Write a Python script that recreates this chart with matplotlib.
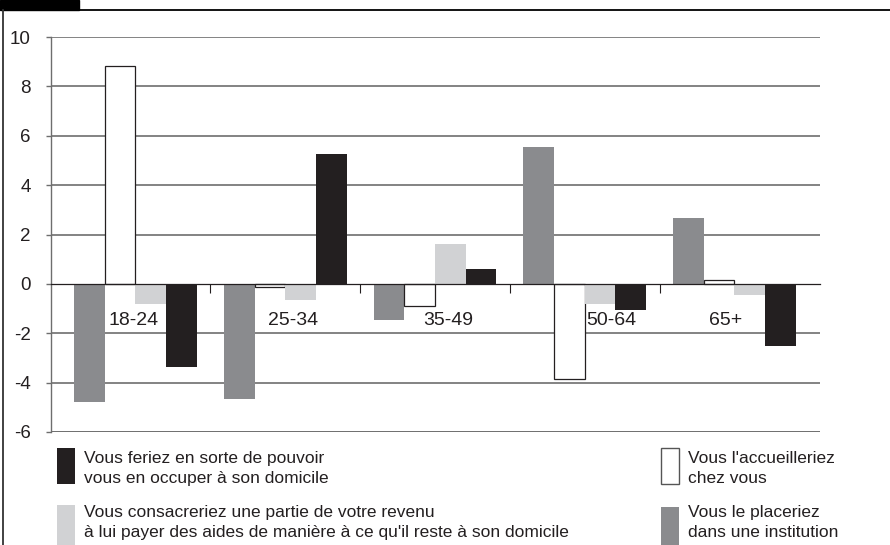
import matplotlib
matplotlib.use("Agg")
from matplotlib import pyplot as plt
from matplotlib.patches import Rectangle
from matplotlib.lines import Line2D
import numpy as np

plt.rcParams['font.family'] = ['Liberation Sans Narrow', 'Liberation Sans', 'DejaVu Sans']

ages = ['18-24', '25-34', '35-49', '50-64', '65+']
placeriez = [-4.8, -4.66, -1.48, 5.55, 2.66]        # grey
accueilleriez = [8.84, -0.12, -0.91, -3.85, 0.17]   # white
consacreriez = [-0.8, -0.64, 1.6, -0.8, -0.47]      # light grey
feriez = [-3.37, 5.28, 0.59, -1.07, -2.52]          # black
yticks = [-6, -4, -2, 0, 2, 4, 6, 8, 10]
label_nudge = [-0.01, 0.05, 0.09, 0.18, -0.06]

W, H = 890, 545
fig = plt.figure(figsize=(W / 100, H / 100), dpi=100)

def fx(px):
    return px / W

def fy(py):
    return 1 - py / H

ax = fig.add_axes([fx(51), fy(432), fx(820) - fx(51), fy(37) - fy(432)])

dark = '#231f20'
grey = '#8a8b8e'
light = '#d1d2d4'
gridc = '#6e6e6e'

x = np.arange(len(ages))
w = 0.205
series = [(placeriez, grey, 'none'), (accueilleriez, 'white', dark),
          (consacreriez, light, 'none'), (feriez, dark, 'none')]
for k, (vals, col, ec) in enumerate(series):
    ax.bar(x + (k - 1.5) * w, vals, width=w, color=col, edgecolor=ec,
           linewidth=0.9 if ec != 'none' else 0, zorder=3)

ax.set_xlim(-0.564, 4.571)
ax.set_ylim(-6, 10)
ax.set_yticks(yticks)
ax.set_yticklabels([str(t) for t in yticks], fontsize=13.5)
for t in yticks:
    if t == 0:
        continue
    ax.axhline(t, color='#555555' if t == -6 else gridc, lw=1.2, zorder=1)

# zero line with group separators
ax.spines['bottom'].set_position(('data', 0))
ax.spines['bottom'].set_color(dark)
ax.spines['bottom'].set_linewidth(0.9)
ax.spines['bottom'].set_zorder(4)
ax.set_xticks(x[:-1] + 0.5)
ax.set_xticklabels([])
ax.tick_params(axis='x', direction='out', length=6.5, color=dark, width=0.8)
ax.tick_params(axis='y', direction='out', length=3.6, color=gridc, width=1.0,
               pad=11, labelcolor='#231f20')
for s in ['top', 'right']:
    ax.spines[s].set_visible(False)
ax.spines['left'].set_color(gridc)
ax.spines['left'].set_linewidth(1.0)

for i, lab in enumerate(ages):
    ax.text(i + label_nudge[i], -1.5, lab, ha='center', va='center',
            fontsize=14, color=dark, zorder=5)

# frame decorations
fig.patches.append(Rectangle((0, fy(10)), fx(79), 1 - fy(10), transform=fig.transFigure,
                             color='black', zorder=1))
fig.lines.append(Line2D([fx(79), 1], [fy(10), fy(10)], transform=fig.transFigure,
                        color='black', lw=1.3))
fig.lines.append(Line2D([fx(3), fx(3)], [fy(10), 0], transform=fig.transFigure,
                        color='#333333', lw=1.3))

# legend
legend_items = [
    (57, 448, 484, dark, 'none', 84, ['Vous feriez en sorte de pouvoir', 'vous en occuper à son domicile'], 463),
    (57, 505, 548, light, 'none', 84, ['Vous consacreriez une partie de votre revenu',
                                        "à lui payer des aides de manière à ce qu'il reste à son domicile"], 517),
    (661, 448, 484, 'white', '#555555', 688, ["Vous l'accueilleriez", 'chez vous'], 463),
    (661, 507, 548, grey, 'none', 688, ['Vous le placeriez', 'dans une institution'], 517),
]
for px, top, bot, col, ec, tx, lines, base in legend_items:
    fig.patches.append(Rectangle((fx(px), fy(bot)), fx(18), fy(top) - fy(bot),
                                 transform=fig.transFigure, facecolor=col,
                                 edgecolor=ec, lw=1.0))
    for j, line in enumerate(lines):
        fig.text(fx(tx), fy(base + 20 * j), line, ha='left', va='baseline',
                 fontsize=12.5, color=dark)

fig.savefig('out.png', dpi=100)
